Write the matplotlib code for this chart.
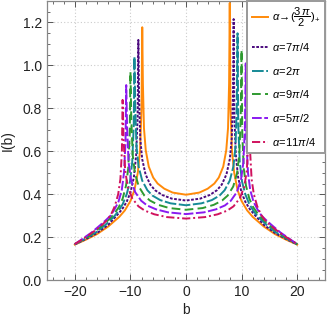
import matplotlib
matplotlib.use("Agg")
import matplotlib.pyplot as plt
import numpy as np
from matplotlib.ticker import MultipleLocator

plt.rcParams['font.family'] = ['Liberation Sans', 'DejaVu Sans']
plt.rcParams['mathtext.fontset'] = 'custom'
plt.rcParams['mathtext.rm'] = 'Liberation Sans'
plt.rcParams['mathtext.it'] = 'Liberation Sans:italic'

# ---- data (right half of each symmetric profile; left peak height read separately) ----
labels = [r'$\alpha\!\rightarrow\!(\dfrac{3\,\pi}{2})_{+}$', r'$\alpha\!=\!7\pi/4$', r'$\alpha\!=\!2\pi$',
          r'$\alpha\!=\!9\pi/4$', r'$\alpha\!=\!5\pi/2$', r'$\alpha\!=\!11\pi/4$']

b_orange = [0, 2.4, 3.9, 5.1, 5.9, 6.7, 7.24, 7.56, 7.75, 7.87, 8.0, 8.27, 8.67, 9.27, 9.97, 11, 12, 14, 16, 18, 20]
I_orange = [0.398, 0.408, 0.426, 0.450, 0.478, 0.529, 0.605, 0.708, 0.915, 1.29, 0.80, 0.60, 0.50, 0.42, 0.37, 0.325, 0.295, 0.25, 0.215, 0.189, 0.166]
peakL_orange = 1.177

b_indigo = [0, 2.57, 4.29, 5.57, 6.43, 7.28, 7.88, 8.23, 8.44, 8.57, 8.7, 8.97, 9.37, 9.97, 10.67, 11.5, 12.5, 14, 16, 18, 20]
I_indigo = [0.371, 0.380, 0.397, 0.419, 0.445, 0.493, 0.564, 0.660, 0.853, 1.215, 0.76, 0.58, 0.48, 0.41, 0.365, 0.33, 0.30, 0.258, 0.22, 0.192, 0.167]
peakL_indigo = 1.118

b_teal = [0, 2.78, 4.64, 6.03, 6.95, 7.88, 8.53, 8.9, 9.13, 9.27, 9.4, 9.67, 10.07, 10.67, 11.37, 12.2, 13, 14.5, 16, 18, 20]
I_teal = [0.349, 0.358, 0.373, 0.394, 0.419, 0.464, 0.530, 0.621, 0.803, 1.149, 0.72, 0.55, 0.46, 0.40, 0.355, 0.32, 0.295, 0.258, 0.226, 0.195, 0.167]
peakL_teal = 1.04

b_green = [0, 3.0, 5.0, 6.49, 7.49, 8.49, 9.19, 9.59, 9.84, 9.99, 10.12, 10.39, 10.79, 11.39, 12.09, 12.9, 13.7, 15, 16.5, 18, 20]
I_green = [0.328, 0.336, 0.351, 0.371, 0.394, 0.436, 0.499, 0.584, 0.754, 1.071, 0.68, 0.52, 0.44, 0.38, 0.34, 0.31, 0.287, 0.256, 0.225, 0.198, 0.168]
peakL_green = 0.97

b_violet = [0, 3.23, 5.38, 6.99, 8.06, 9.14, 9.89, 10.32, 10.59, 10.75, 10.88, 11.15, 11.55, 12.15, 12.85, 13.6, 14.4, 15.5, 17, 18.5, 20]
I_violet = [0.308, 0.316, 0.330, 0.348, 0.370, 0.410, 0.468, 0.548, 0.708, 1.009, 0.64, 0.50, 0.42, 0.365, 0.33, 0.30, 0.28, 0.255, 0.222, 0.195, 0.168]
peakL_violet = 0.908

b_pink = [0, 3.42, 5.7, 7.41, 8.55, 9.69, 10.49, 10.94, 11.23, 11.4, 11.53, 11.8, 12.2, 12.8, 13.5, 14.2, 15, 16, 17.5, 19, 20]
I_pink = [0.287, 0.294, 0.307, 0.324, 0.344, 0.382, 0.436, 0.511, 0.660, 0.93, 0.60, 0.47, 0.40, 0.345, 0.305, 0.28, 0.26, 0.238, 0.21, 0.184, 0.169]
peakL_pink = 0.839

series = [
    (b_orange, I_orange, peakL_orange, '#FF8A0A', '-'),
    (b_indigo, I_indigo, peakL_indigo, '#4B0A7E', (0, (1.4, 0.8))),
    (b_teal, I_teal, peakL_teal, '#168A96', (0, (6, 1.3))),
    (b_green, I_green, peakL_green, '#2E9A30', (0, (4.5, 2.2))),
    (b_violet, I_violet, peakL_violet, '#8A1AF0', (0, (5, 1.3))),
    (b_pink, I_pink, peakL_pink, '#D0125E', (0, (4.2, 1.5, 1.0, 1.5))),
]

fig = plt.figure(figsize=(3.27, 3.21), dpi=100)
ax = fig.add_axes([0.1437, 0.1268, 0.8502, 0.8707])

for (bb, II, pl, col, ls), lab in zip(series, labels):
    bb = np.asarray(bb, float)
    II = np.asarray(II, float)
    Ileft = II.copy()
    Ileft[int(np.argmax(II))] = pl
    x = np.concatenate([-bb[::-1], bb[1:]])
    y = np.concatenate([Ileft[::-1], II[1:]])
    ax.plot(x, y, color=col, linestyle=ls, lw=1.4, label=lab)

ax.set_xlim(-25, 25)
ax.set_ylim(0, 1.3)
ax.xaxis.set_major_locator(MultipleLocator(10))
ax.xaxis.set_minor_locator(MultipleLocator(2))
ax.yaxis.set_major_locator(MultipleLocator(0.2))
ax.yaxis.set_minor_locator(MultipleLocator(0.05))
ax.yaxis.set_major_formatter(matplotlib.ticker.FormatStrFormatter('%.1f'))
ax.tick_params(which='both', direction='in', top=True, right=True, colors='#555555',
               labelcolor='#222222', labelsize=10)
ax.tick_params(which='major', length=4, width=0.7)
ax.tick_params(which='minor', length=2.2, width=0.6)
for s in ax.spines.values():
    s.set_color('#888888')
    s.set_linewidth(0.9)
ax.grid(True, which='major', color='#cccccc', linestyle=(0, (1, 2)), lw=0.8)
ax.set_axisbelow(True)

ax.set_xlabel('b', fontsize=10, color='#222222', labelpad=3)
ax.set_ylabel('I(b)', fontsize=10, color='#222222', labelpad=6)

leg = ax.legend(loc='upper right', bbox_to_anchor=(1.0, 1.0), fontsize=8,
                handlelength=1.45, handletextpad=0.35, labelspacing=1.05,
                borderpad=0.45, borderaxespad=0.0, fancybox=False, framealpha=1,
                edgecolor='#999999')
leg.get_frame().set_linewidth(1.4)

fig.savefig('out.png', dpi=100)
